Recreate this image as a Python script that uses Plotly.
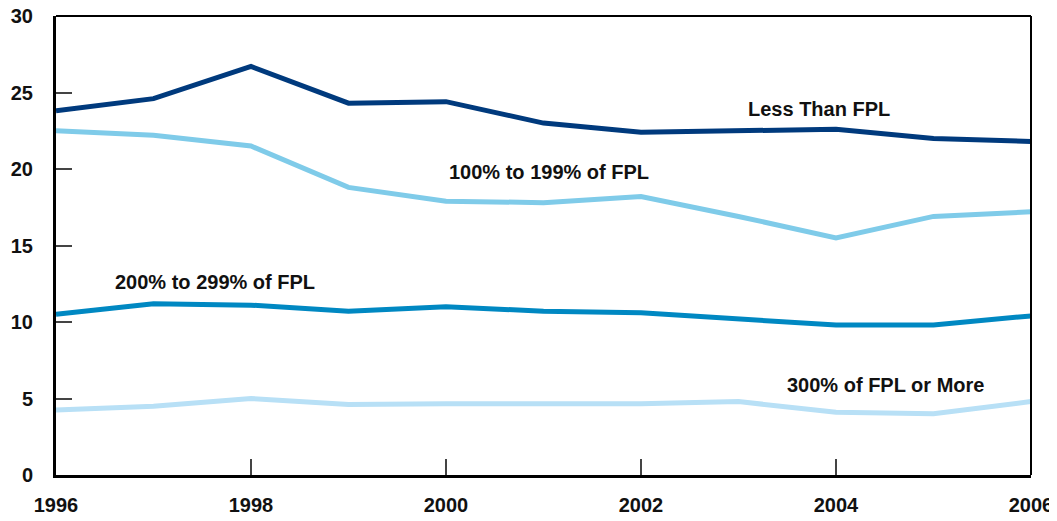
import plotly.graph_objects as go

years = [1996, 1997, 1998, 1999, 2000, 2001, 2002, 2003, 2004, 2005, 2006]
less_than_fpl = [23.8, 24.6, 26.7, 24.3, 24.4, 23.0, 22.4, 22.5, 22.6, 22.0, 21.8]
fpl_100_199 = [22.5, 22.2, 21.5, 18.8, 17.9, 17.8, 18.2, 16.9, 15.5, 16.9, 17.2]
fpl_200_299 = [10.5, 11.2, 11.1, 10.7, 11.0, 10.7, 10.6, 10.2, 9.8, 9.8, 10.4]
fpl_300_plus = [4.25, 4.5, 5.0, 4.6, 4.65, 4.65, 4.65, 4.8, 4.1, 4.0, 4.8]

x_ticks = [1996, 1998, 2000, 2002, 2004, 2006]
y_ticks = [0, 5, 10, 15, 20, 25, 30]

series = [
    ("Less Than FPL", less_than_fpl, "#003a7d", 2003.83, 23.9),
    ("100% to 199% of FPL", fpl_100_199, "#7fcbe9", 2001.06, 19.8),
    ("200% to 299% of FPL", fpl_200_299, "#0088c2", 1997.63, 12.64),
    ("300% of FPL or More", fpl_300_plus, "#b8e0f6", 2004.51, 5.9),
]

fig = go.Figure()
for name, vals, color, ax, ay in series:
    fig.add_trace(go.Scatter(x=years, y=vals, mode="lines", name=name,
                             line=dict(color=color, width=5), showlegend=False))
    fig.add_annotation(x=ax, y=ay, text="<b>" + name + "</b>", showarrow=False,
                       font=dict(family="Liberation Sans", size=20, color="#111111"))

# frame (top and right)
fig.add_shape(type="line", xref="paper", yref="paper", x0=0, x1=1, y0=1, y1=1,
              line=dict(color="black", width=2))
fig.add_shape(type="line", xref="paper", yref="paper", x0=1, x1=1, y0=0, y1=1,
              line=dict(color="black", width=2))

fig.update_layout(
    width=1049, height=513,
    margin=dict(l=48, r=26, t=8, b=46),
    paper_bgcolor="white", plot_bgcolor="white",
    font=dict(family="Liberation Sans", color="#111111"),
)
fig.update_xaxes(range=[1996, 2006], tickvals=x_ticks, ticktext=[f"<b>{t}</b>" for t in x_ticks],
                 showgrid=False, zeroline=False, showline=True, linecolor="black", linewidth=3,
                 ticks="inside", ticklen=16, tickwidth=1.5, tickcolor="#444444", automargin=False,
                 ticklabeloverflow="allow",
                 tickfont=dict(size=20, family="Liberation Sans"), ticklabelstandoff=10)
fig.update_yaxes(range=[0, 30], tickvals=y_ticks, ticktext=[f"<b>{t}</b>" for t in y_ticks],
                 showgrid=False, zeroline=False, showline=True, linecolor="black", linewidth=3,
                 ticks="inside", ticklen=16, tickwidth=1.5, tickcolor="#444444", automargin=False,
                 ticklabeloverflow="allow",
                 tickfont=dict(size=20, family="Liberation Sans"), ticklabelstandoff=16)

fig.write_html("out.html")
